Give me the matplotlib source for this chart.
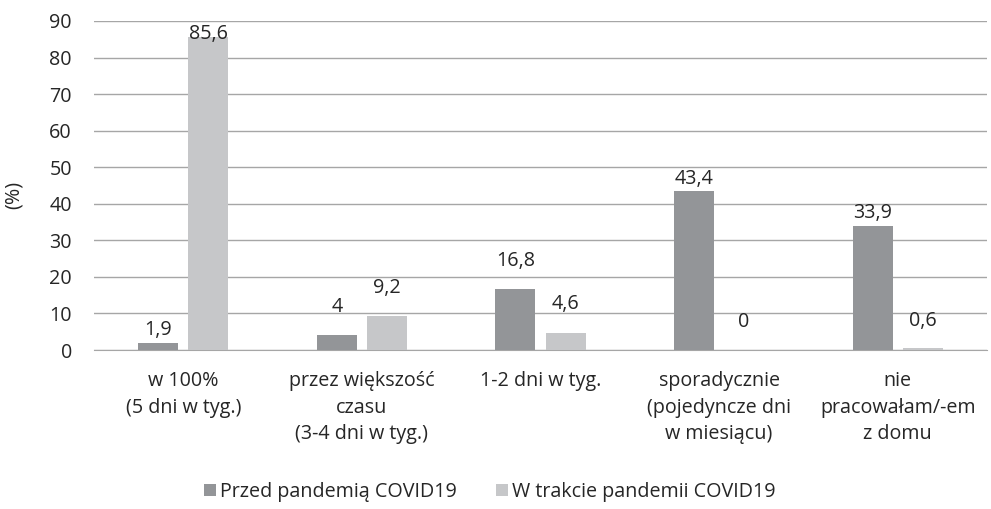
import matplotlib
matplotlib.use("Agg")
import matplotlib.pyplot as plt
import numpy as np

categories = ["w 100%\n(5 dni w tyg.)",
              "przez większość\nczasu\n(3-4 dni w tyg.)",
              "1-2 dni w tyg.",
              "sporadycznie\n(pojedyncze dni\nw miesiącu)",
              "nie\npracowałam/-em\nz domu"]
before = [1.9, 4, 16.8, 43.4, 33.9]
during = [85.6, 9.2, 4.6, 0, 0.6]
before_labels = ["1,9", "4", "16,8", "43,4", "33,9"]
during_labels = ["85,6", "9,2", "4,6", "0", "0,6"]
series_names = ["Przed pandemią COVID19", "W trakcie pandemii COVID19"]
yticks = [0, 10, 20, 30, 40, 50, 60, 70, 80, 90]

# label offsets in points (style)
before_off = [2, 13, 13, 2, 2]
during_off = [-5, 13, 14, 13, 12]

FS = 14.2
plt.rcParams['font.family'] = ['Open Sans', 'DejaVu Sans']
TXT = '#262626'
DARK = '#939598'
LIGHT = '#c6c7c9'

fig = plt.figure(figsize=(9.91, 5.09), dpi=100)
ax = fig.add_axes([94/991, 1-350/509, (987-94)/991, (350-21)/509])

x = np.arange(len(categories))
w = 0.224
off = 0.14
b1 = ax.bar(x - off, before, w, color=DARK, label=series_names[0], zorder=3)
b2 = ax.bar(x + off, during, w, color=LIGHT, label=series_names[1], zorder=3)

for rect, lab, o in zip(b1, before_labels, before_off):
    ax.annotate(lab, (rect.get_x() + rect.get_width()/2, rect.get_height()),
                xytext=(0, o), textcoords='offset points', ha='center', va='bottom',
                fontsize=FS, color=TXT)
for rect, lab, o in zip(b2, during_labels, during_off):
    ax.annotate(lab, (rect.get_x() + rect.get_width()/2, rect.get_height()),
                xytext=(0, o), textcoords='offset points', ha='center', va='bottom',
                fontsize=FS, color=TXT)

ax.set_xlim(-0.5, len(categories) - 0.5)
ax.set_ylim(0, 90)
ax.set_yticks(yticks)
ax.set_yticklabels([str(t) for t in yticks], fontsize=FS, color=TXT)
ax.set_xticks(x)
ax.set_xticklabels(categories, fontsize=FS, color=TXT, linespacing=1.45)
ax.tick_params(axis='both', length=0)
ax.tick_params(axis='y', pad=16)
ax.tick_params(axis='x', pad=15)
ax.yaxis.grid(True, color='#a6a6a6', linewidth=1.0, zorder=0)
for s in ['top', 'right', 'left']:
    ax.spines[s].set_visible(False)
ax.spines['bottom'].set_color('#a6a6a6')
ax.set_ylabel("(%)", fontsize=FS, color=TXT, labelpad=13)
ax.yaxis.set_label_coords(-0.079, 0.47)

leg = fig.legend(handles=[b1, b2], labels=series_names, loc='center',
                 bbox_to_anchor=(490/991, 1-492/509), ncol=2, frameon=False,
                 fontsize=FS, handlelength=0.6, handleheight=0.6, handletextpad=0.2,
                 columnspacing=2.0)
for t in leg.get_texts():
    t.set_color(TXT)

fig.savefig("out.png", dpi=100)
